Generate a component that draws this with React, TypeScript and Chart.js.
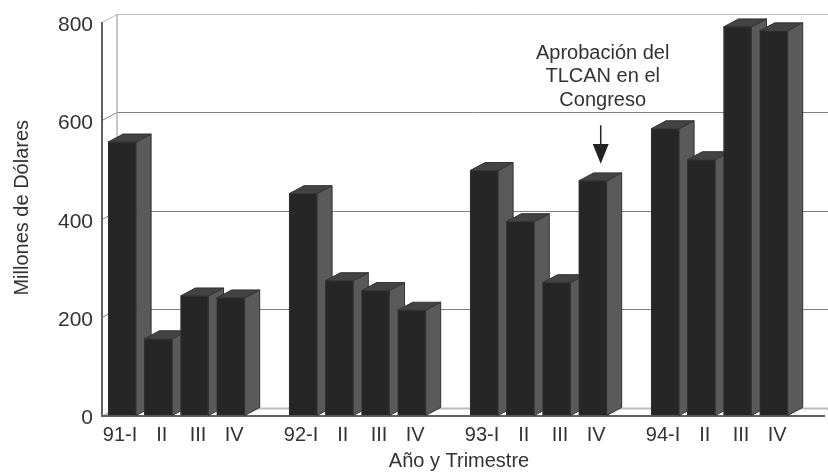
import React, { useEffect, useRef } from "react";
import { Chart, registerables } from "chart.js";

Chart.register(...registerables);

const categories = ["91-I","II","III","IV","","92-I","II","III","IV","","93-I","II","III","IV","","94-I","II","III","IV",""];
const values: (number | null)[] = [556,156,243,239,null,451,274,254,214,null,498,394,270,477,null,583,520,790,782,null];
const yTicks = [0,200,400,600,800];
const noteLines = ["Aprobación del","TLCAN en el","Congreso"];
const noteIndex = 13;

const FONT = '"Liberation Sans", Arial, sans-serif';
const TEXT = "#333333";
const DX = 15, DY = 8;
const WALL_DX = 15, WALL_DY = 8;

const walls = {
  id: "walls",
  afterLayout(chart: any) {
    chart.scales.x.left -= 14;
    chart.scales.y.top -= 22;
  },
  beforeDatasetsDraw(chart: any) {
    const { ctx, scales: { y }, width } = chart;
    const axisX = 102;
    const backX = axisX + WALL_DX;
    ctx.save();
    yTicks.forEach((v) => {
      const py = Math.round(y.getPixelForValue(v)) + 0.5;
      ctx.strokeStyle = v === 0 || v === 800 ? "#bcbcbc" : "#808080";
      ctx.lineWidth = v === 0 ? 2 : 1;
      ctx.beginPath();
      ctx.moveTo(axisX, py);
      ctx.lineTo(backX, py - WALL_DY);
      ctx.lineTo(width, py - WALL_DY);
      ctx.stroke();
    });
    ctx.strokeStyle = "#b4b4b4";
    ctx.lineWidth = 1.5;
    ctx.beginPath();
    ctx.moveTo(backX, y.getPixelForValue(800) - WALL_DY);
    ctx.lineTo(backX, y.getPixelForValue(0) - WALL_DY);
    ctx.stroke();
    ctx.strokeStyle = "#606060";
    ctx.lineWidth = 2;
    ctx.beginPath();
    ctx.moveTo(axisX, y.getPixelForValue(800));
    ctx.lineTo(axisX, y.getPixelForValue(0) + 0.5);
    ctx.lineTo(width - 3, y.getPixelForValue(0) + 0.5);
    ctx.stroke();

    // side and top faces of each bar, left to right
    const bars = chart.getDatasetMeta(0).data;
    ctx.lineWidth = 1;
    ctx.strokeStyle = "#333333";
    ctx.lineJoin = "round";
    bars.forEach((b: any, i: number) => {
      if (values[i] == null) return;
      const half = b.width / 2;
      const l = b.x - half, r = b.x + half, t = b.y, bt = b.base;
      ctx.fillStyle = "#5a5a5a";
      ctx.beginPath();
      ctx.moveTo(r, t); ctx.lineTo(r + DX, t - DY); ctx.lineTo(r + DX, bt - DY); ctx.lineTo(r, bt);
      ctx.closePath(); ctx.fill(); ctx.stroke();
      ctx.fillStyle = "#434343";
      ctx.beginPath();
      ctx.moveTo(l, t); ctx.lineTo(l + DX, t - DY); ctx.lineTo(r + DX, t - DY); ctx.lineTo(r, t);
      ctx.closePath(); ctx.fill(); ctx.stroke();
    });
    ctx.restore();
  },
  afterDatasetsDraw(chart: any) {
    const { ctx, scales: { x, y } } = chart;
    const cx = x.getPixelForValue(noteIndex) + 8;
    const top = y.getPixelForValue(590), headTop = y.getPixelForValue(552), tip = y.getPixelForValue(512);
    ctx.save();
    ctx.strokeStyle = "#222222";
    ctx.fillStyle = "#222222";
    ctx.lineWidth = 1.5;
    ctx.beginPath();
    ctx.moveTo(cx, top); ctx.lineTo(cx, headTop + 2);
    ctx.stroke();
    ctx.beginPath();
    ctx.moveTo(cx - 8, headTop); ctx.lineTo(cx + 8, headTop); ctx.lineTo(cx, tip);
    ctx.closePath(); ctx.fill();
    ctx.fillStyle = TEXT;
    ctx.font = `20px ${FONT}`;
    ctx.textAlign = "center";
    ctx.textBaseline = "middle";
    noteLines.forEach((line, i) => ctx.fillText(line, cx + 2, 53 + i * 23.5));
    ctx.restore();
  },
};

export default function App() {
  const ref = useRef<HTMLCanvasElement>(null);
  useEffect(() => {
    const chart = new Chart(ref.current!, {
      type: "bar",
      data: {
        labels: categories,
        datasets: [{
          data: values,
          backgroundColor: "#262626",
          borderColor: "#333333",
          borderWidth: 1,
          barThickness: 28,
        }],
      },
      plugins: [walls],
      options: {
        animation: false,
        responsive: false,
        layout: { padding: { top: 22 } },
        plugins: { legend: { display: false }, tooltip: { enabled: false } },
        scales: {
          x: {
            grid: { display: false, drawTicks: false },
            border: { display: false },
            ticks: {
              color: TEXT, font: { family: FONT, size: 20 }, padding: 8, autoSkip: false, maxRotation: 0,
              labelOffset: 3.5,
              callback: (_v: any, i: number) => categories[i] + (i % 5 === 0 ? "  " : ""),
            },
            title: { display: true, text: "Año y Trimestre", color: TEXT, font: { family: FONT, size: 20 }, padding: { top: 0, bottom: 0 } },
            afterFit: (s: any) => { s.height = 473 - 415.5; s.paddingLeft = 0; s.paddingRight = 0; },
          },
          y: {
            min: 0,
            max: 800,
            grid: { display: false, drawTicks: false },
            border: { display: false },
            ticks: {
              color: TEXT, font: { family: FONT, size: 21 }, padding: 11, stepSize: 200,
              labelOffset: 3,
            },
            title: { display: true, text: "Millones de Dólares", color: TEXT, font: { family: FONT, size: 20 }, padding: { top: 10, bottom: 0 } },
            afterFit: (s: any) => { s.width = 104; s.paddingTop = 0; s.paddingBottom = 0; },
          },
        },
      },
    } as any);
    return () => chart.destroy();
  }, []);
  return (
    <div style={{ position: "fixed", left: 0, top: 0, width: 828, height: 473, background: "#fff" }}>
      <canvas ref={ref} width={828} height={473} style={{ display: "block" }} />
    </div>
  );
}
